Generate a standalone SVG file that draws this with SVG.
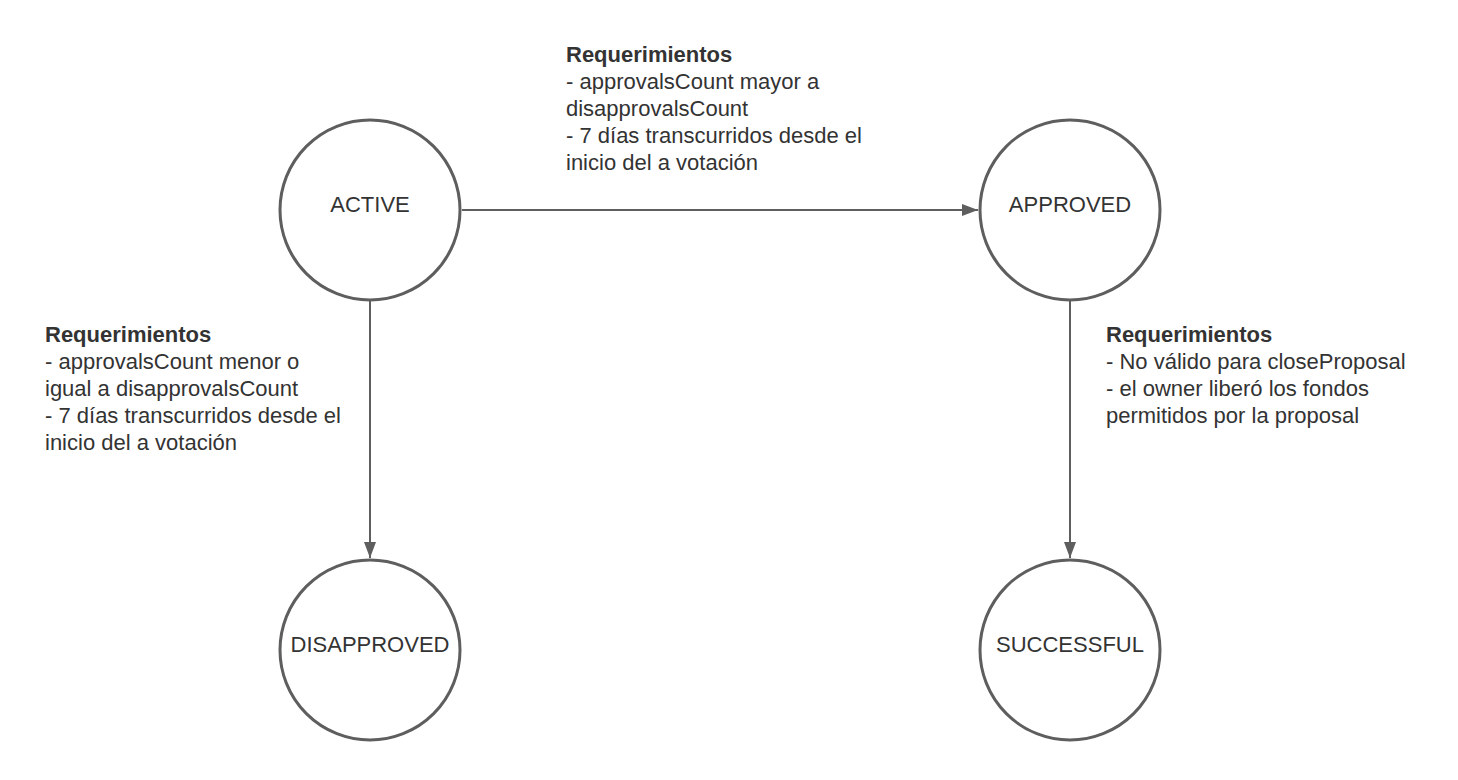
<svg xmlns="http://www.w3.org/2000/svg" width="1458" height="780" viewBox="0 0 1458 780">
<style>
.node{fill:#ffffff;stroke:#5e5e5e;stroke-width:3}
.ntxt{font-family:"Liberation Sans",Arial,sans-serif;font-size:22px;fill:#333333;text-anchor:middle}
.lbl{font-family:"Liberation Sans",Arial,sans-serif;font-size:22px;fill:#333333}
.lbl .b{font-weight:bold}
.edge{stroke:#5e5e5e;stroke-width:2;fill:none}
</style>
<defs>
<marker id="arr" viewBox="0 0 16 12" refX="16" refY="6" markerWidth="16" markerHeight="12" markerUnits="userSpaceOnUse" orient="auto">
<path d="M0,0 L16,6 L0,12 Z" fill="#5e5e5e"/>
</marker>
</defs>
<rect width="1458" height="780" fill="#ffffff"/>
<g id="connectors">
<line class="edge" x1="462" y1="210" x2="978" y2="210" marker-end="url(#arr)"/>
<line class="edge" x1="370" y1="301" x2="370" y2="558" marker-end="url(#arr)"/>
<line class="edge" x1="1070" y1="301" x2="1070" y2="558" marker-end="url(#arr)"/>
</g>
<g id="label-active-approved">
<text class="lbl" x="566" y="62"><tspan class="b">Requerimientos</tspan><tspan x="566" y="89">- approvalsCount mayor a</tspan><tspan x="566" y="116">disapprovalsCount</tspan><tspan x="566" y="143">- 7 días transcurridos desde el</tspan><tspan x="566" y="170">inicio del a votación</tspan></text>
</g>
<g id="label-active-disapproved">
<text class="lbl" x="45" y="342"><tspan class="b">Requerimientos</tspan><tspan x="45" y="369">- approvalsCount menor o</tspan><tspan x="45" y="396">igual a disapprovalsCount</tspan><tspan x="45" y="423">- 7 días transcurridos desde el</tspan><tspan x="45" y="450">inicio del a votación</tspan></text>
</g>
<g id="label-approved-successful">
<text class="lbl" x="1106" y="342"><tspan class="b">Requerimientos</tspan><tspan x="1106" y="369">- No válido para closeProposal</tspan><tspan x="1106" y="396">- el owner liberó los fondos</tspan><tspan x="1106" y="423">permitidos por la proposal</tspan></text>
</g>
<g id="node-active">
<circle class="node" cx="370" cy="210" r="90"/>
<text class="ntxt" x="370" y="212">ACTIVE</text>
</g>
<g id="node-approved">
<circle class="node" cx="1070" cy="210" r="90"/>
<text class="ntxt" x="1070" y="212">APPROVED</text>
</g>
<g id="node-disapproved">
<circle class="node" cx="370" cy="650" r="90"/>
<text class="ntxt" x="370" y="652">DISAPPROVED</text>
</g>
<g id="node-successful">
<circle class="node" cx="1070" cy="650" r="90"/>
<text class="ntxt" x="1070" y="652">SUCCESSFUL</text>
</g>
</svg>
